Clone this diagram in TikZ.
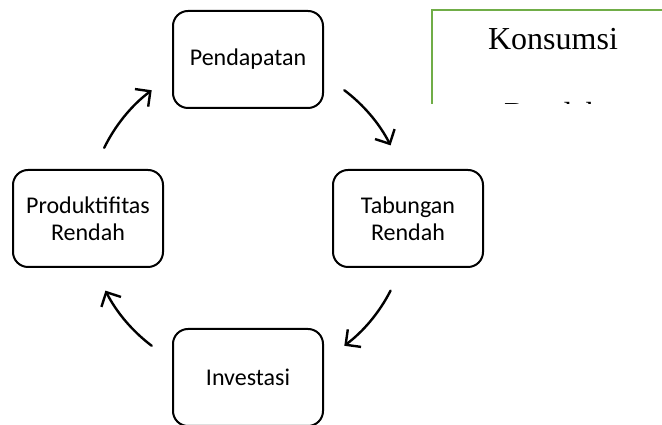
\documentclass[tikz,border=0pt]{standalone}
\usepackage{fontspec}
\setmainfont{Liberation Serif}
\newfontfamily\calibrifont{Carlito}
\usetikzlibrary{arrows.meta}
\definecolor{officegreen}{RGB}{112,173,71}
\tikzset{
  cyclebox/.style={draw=black, line width=2pt, rounded corners=15pt,
    minimum width=150pt, minimum height=97pt, inner sep=0pt, align=center,
    font=\calibrifont\fontsize{24}{27}\selectfont},
  cyclearrow/.style={line width=2.4pt, line cap=round,
    -{Straight Barb[length=11pt,width=22pt,line width=2.4pt]}},
  greenedge/.style={draw=officegreen, line width=2.8pt}
}
\begin{document}
\begin{tikzpicture}[x=1pt,y=1pt]
\useasboundingbox (0,0) rectangle (662,425);
% boxes
\node[cyclebox] (pend) at (248,365.5) {Pendapatan};
\node[cyclebox] (tab) at (408,206.5) {Tabungan\\Rendah};
\node[cyclebox] (inv) at (248,47.5) {Investasi};
\node[cyclebox] (prod) at (88,206.5) {Produktifitas\\Rendah};
% arrows on a circle
\coordinate (c) at (248,207);
\coordinate (a1) at ([shift={(53:160pt)}]c);
\coordinate (a2) at ([shift={(-27:160pt)}]c);
\coordinate (a3) at ([shift={(233:160pt)}]c);
\coordinate (a4) at ([shift={(154:160pt)}]c);
\draw[cyclearrow] (a1) arc[start angle=53, end angle=27, radius=160pt];
\draw[cyclearrow] (a2) arc[start angle=-27, end angle=-53, radius=160pt];
\draw[cyclearrow] (a3) arc[start angle=233, end angle=207, radius=160pt];
\draw[cyclearrow] (a4) arc[start angle=154, end angle=127, radius=160pt];
% Konsumsi box (partly visible)
\coordinate (kbl) at (432,321);
\coordinate (ktl) at (432,415);
\coordinate (ktr) at (662,415);
\node[anchor=base, font=\fontsize{32}{36}\selectfont] (kons) at (553,375) {Konsumsi};
\begin{scope}
\clip (432,321) rectangle (662,415);
\node[anchor=base, font=\fontsize{32}{36}\selectfont] (kren) at (553,300.5) {Rendah};
\end{scope}
\draw[greenedge] (kbl) -- (ktl) -- (ktr);
\end{tikzpicture}
\end{document}
